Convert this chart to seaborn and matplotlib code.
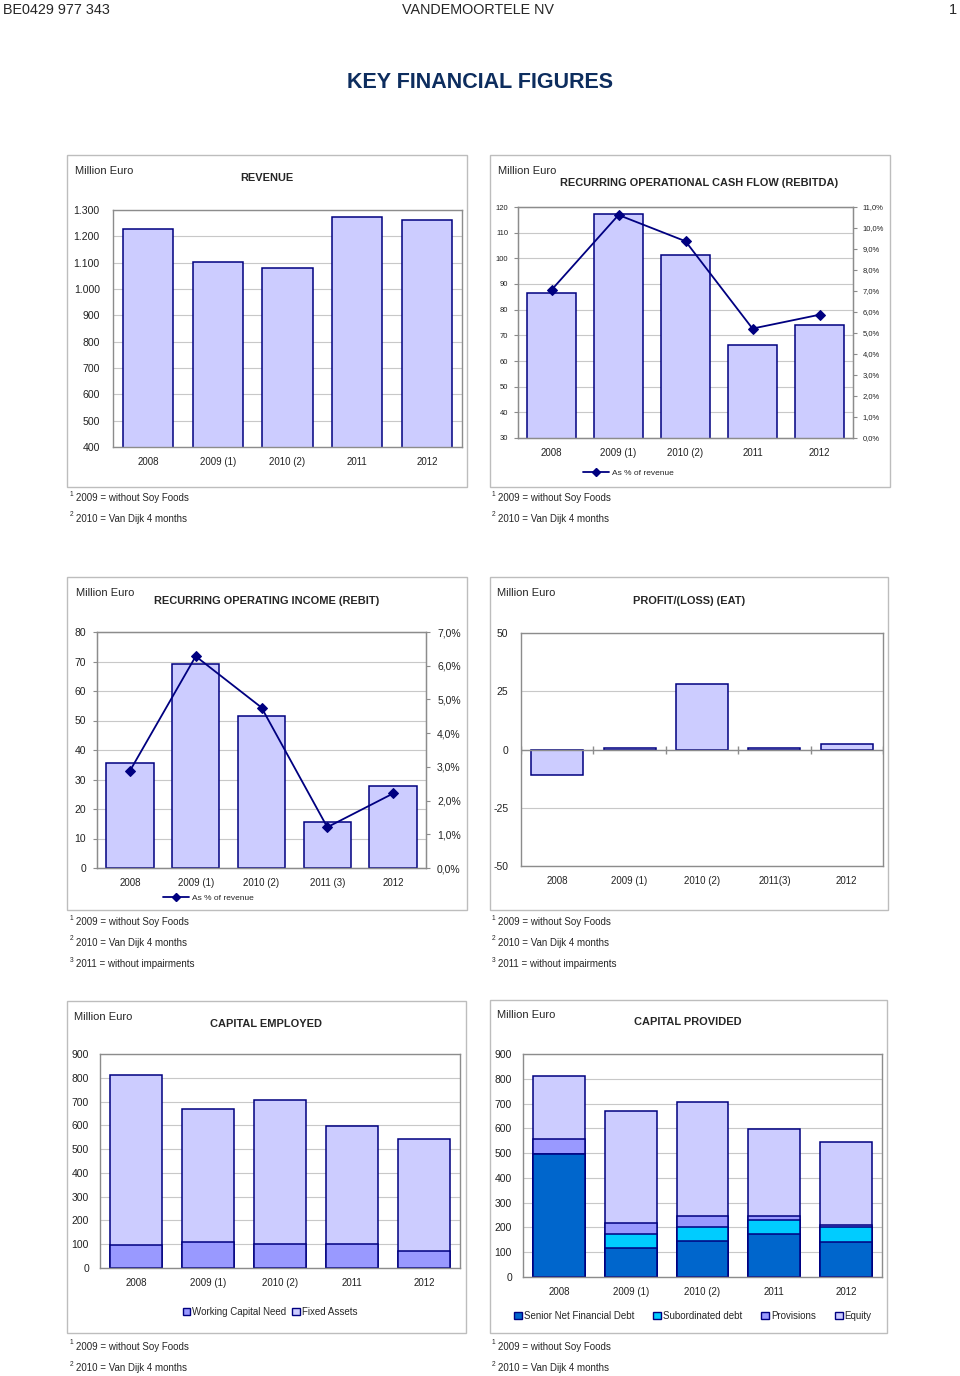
import numpy as np
import pandas as pd
import matplotlib
matplotlib.use('Agg')
import matplotlib.pyplot as plt
import seaborn as sns
from matplotlib.patches import Rectangle, Patch
from matplotlib.lines import Line2D
from matplotlib.ticker import FuncFormatter, FixedLocator

sns.set_style('white')
plt.rcParams['font.family'] = ['Liberation Sans', 'DejaVu Sans']
plt.rcParams['axes.unicode_minus'] = False
NARROW = ['Liberation Sans Narrow', 'Liberation Sans', 'DejaVu Sans']

# data
years = ['2008', '2009 (1)', '2010 (2)', '2011', '2012']
years_rebit = ['2008', '2009 (1)', '2010 (2)', '2011 (3)', '2012']
years_eat = ['2008', '2009 (1)', '2010 (2)', '2011(3)', '2012']

revenue = [1228, 1103, 1080, 1274, 1261]

rebitda = [86.6, 117.3, 101.2, 66.4, 74.2]
rebitda_pct = [7.05, 10.62, 9.37, 5.21, 5.87]

rebit = [35.5, 69.2, 51.5, 15.5, 27.9]
rebit_pct = [2.88, 6.28, 4.76, 1.21, 2.21]

eat = [-11.0, 0.5, 28.0, 0.5, 2.3]

working_capital = [98, 111, 101, 101, 70]
fixed_assets = [714, 558, 607, 496, 473]

senior_debt = [498, 119, 147, 175, 143]
subordinated_debt = [0, 54, 55, 57, 59]
provisions = [60, 45, 43, 16, 7]
equity = [254, 450, 462, 349, 334]

LIGHT = '#CCCCFF'
MID = '#9999FF'
NAVY = '#000080'
SENIOR = '#0066CC'
CYAN = '#00CCFF'
GRID = '#C8C8C8'
FRAME = '#8C8C8C'

W, H = 960, 1376
fig = plt.figure(figsize=(W / 100, H / 100), dpi=100)


def rect(x0, y0, x1, y1):
    return [x0 / W, 1 - y1 / H, (x1 - x0) / W, (y1 - y0) / H]


def txt(x, y, s, **kw):
    kw.setdefault('va', 'center')
    return fig.text(x / W, 1 - y / H, s, **kw)


def frame(x0, y0, x1, y1):
    fig.add_artist(Rectangle((x0 / W, 1 - y1 / H), (x1 - x0) / W, (y1 - y0) / H,
                             transform=fig.transFigure, fill=False,
                             edgecolor='#BDBDBD', lw=1.0))


def footnotes(x, y, notes):
    for i, n in enumerate(notes):
        yy = y + i * 21
        txt(x, yy - 4, str(i + 1), fontsize=4.8, family=NARROW)
        txt(x + 6, yy, n, fontsize=7.0, family=NARROW)


def style_axes(ax, labels, ysize, xpad=7, ypad=5):
    ax.set_xlim(-0.5, 4.5)
    ax.set_xlabel('')
    ax.set_ylabel('')
    for s in ax.spines.values():
        s.set_visible(True)
        s.set_color(FRAME)
        s.set_linewidth(1.0)
    ax.yaxis.grid(True, color=GRID, lw=0.8)
    ax.set_axisbelow(True)
    ax.xaxis.set_major_locator(FixedLocator(np.arange(5)))
    ax.set_xticklabels(labels)
    ax.xaxis.set_minor_locator(FixedLocator(np.arange(6) - 0.5))
    ax.tick_params(axis='x', which='major', length=0, pad=xpad, labelsize=7, colors='#222222')
    ax.tick_params(axis='x', which='minor', length=3, color=FRAME, direction='out')
    ax.tick_params(axis='y', length=3, color=FRAME, direction='out', pad=ypad,
                   labelsize=ysize, labelcolor='#222222')


def bars(ax, vals, color):
    sns.barplot(x=years, y=vals, order=years, color=color, saturation=1, width=0.72,
                edgecolor=NAVY, linewidth=1.1, ax=ax)


def pct_fmt(v, _):
    return f'{v:.1f}%'.replace('.', ',')


TITLE = dict(fontsize=7.9, family=NARROW, weight='bold', ha='center')

# header
txt(3, 10, 'BE0429 977 343', fontsize=10.4, family=NARROW, ha='left')
txt(478, 10, 'VANDEMOORTELE NV', fontsize=10.4, family=NARROW, ha='center')
txt(957, 10, '1', fontsize=10.4, family=NARROW, ha='right')
txt(480, 82, 'KEY FINANCIAL FIGURES', fontsize=15.5, family=NARROW, weight='bold',
    ha='center', color='#0D2D5E')

# ---- revenue
frame(67, 155, 467, 487)
txt(75, 171, 'Million Euro', fontsize=8)
txt(267, 178, 'REVENUE', **TITLE)
ax = fig.add_axes(rect(113, 210, 462, 447))
bars(ax, revenue, LIGHT)
ax.set_ylim(400, 1300)
ax.set_yticks(np.arange(400, 1301, 100))
ax.yaxis.set_major_formatter(FuncFormatter(lambda v, _: f'{int(v):,}'.replace(',', '.')))
style_axes(ax, years, 7.6, ypad=6.5)
footnotes(70, 498, ['2009 = without Soy Foods', '2010 = Van Dijk 4 months'])

# ---- rebitda
frame(490, 155, 890, 487)
txt(498, 171, 'Million Euro', fontsize=8)
txt(699, 183, 'RECURRING OPERATIONAL CASH FLOW (REBITDA)', **TITLE)
ax = fig.add_axes(rect(518, 207, 853, 438))
bars(ax, rebitda, LIGHT)
ax.set_ylim(30, 120)
ax.set_yticks(np.arange(30, 121, 10))
style_axes(ax, years, 5.5, ypad=4)
ax2 = ax.twinx()
sns.lineplot(x=np.arange(5), y=rebitda_pct, ax=ax2, color=NAVY, lw=1.3, marker='D',
             markersize=5, markeredgecolor=NAVY, legend=False)
ax2.set_xlim(-0.5, 4.5)
ax2.set_ylim(0, 11)
ax2.set_yticks(np.arange(0, 11.1, 1))
ax2.yaxis.set_major_formatter(FuncFormatter(pct_fmt))
ax2.tick_params(axis='y', length=3, color=FRAME, pad=4, labelsize=5.5, labelcolor='#222222')
ax2.set_ylabel('')
for s in ax2.spines.values():
    s.set_color(FRAME)
fig.legend(handles=[Line2D([], [], color=NAVY, lw=1.3, marker='D', markersize=4)],
           labels=['As % of revenue'], loc='center', bbox_to_anchor=(628 / W, 1 - 473 / H),
           frameon=False, fontsize=6, handlelength=3.2, handletextpad=0.3)
footnotes(492, 498, ['2009 = without Soy Foods', '2010 = Van Dijk 4 months'])

# ---- rebit
frame(67, 577, 467, 910)
txt(76, 593, 'Million Euro', fontsize=8)
txt(267, 601, 'RECURRING OPERATING INCOME (REBIT)', **TITLE)
ax = fig.add_axes(rect(97, 632, 426, 868))
bars(ax, rebit, LIGHT)
ax.set_ylim(0, 80)
ax.set_yticks(np.arange(0, 81, 10))
style_axes(ax, years_rebit, 7.5, ypad=5)
ax2 = ax.twinx()
sns.lineplot(x=np.arange(5), y=rebit_pct, ax=ax2, color=NAVY, lw=1.3, marker='D',
             markersize=5, markeredgecolor=NAVY, legend=False)
ax2.set_xlim(-0.5, 4.5)
ax2.set_ylim(0, 7)
ax2.set_yticks(np.arange(0, 7.1, 1))
ax2.yaxis.set_major_formatter(FuncFormatter(pct_fmt))
ax2.tick_params(axis='y', length=3, color=FRAME, pad=5, labelsize=7.5, labelcolor='#222222')
ax2.set_ylabel('')
for s in ax2.spines.values():
    s.set_color(FRAME)
fig.legend(handles=[Line2D([], [], color=NAVY, lw=1.3, marker='D', markersize=4)],
           labels=['As % of revenue'], loc='center', bbox_to_anchor=(208 / W, 1 - 898 / H),
           frameon=False, fontsize=6, handlelength=3.2, handletextpad=0.3)
footnotes(70, 922, ['2009 = without Soy Foods', '2010 = Van Dijk 4 months',
                    '2011 = without impairments'])

# ---- eat
frame(490, 577, 888, 910)
txt(497, 593, 'Million Euro', fontsize=8)
txt(689, 601, 'PROFIT/(LOSS) (EAT)', **TITLE)
ax = fig.add_axes(rect(521, 633, 883, 866))
bars(ax, eat, LIGHT)
ax.set_ylim(-50, 50)
ax.set_yticks([-50, -25, 0, 25, 50])
style_axes(ax, years_eat, 7.5, ypad=6)
ax.tick_params(axis='x', which='minor', length=0)
ax.axhline(0, color=FRAME, lw=1.0, zorder=1)
ax.plot(np.arange(6) - 0.5, np.zeros(6), ls='none', marker='|', ms=6, color=FRAME, zorder=1)
footnotes(492, 922, ['2009 = without Soy Foods', '2010 = Van Dijk 4 months',
                     '2011 = without impairments'])

# ---- capital employed
frame(67, 1001, 466, 1333)
txt(74, 1017, 'Million Euro', fontsize=8)
txt(266, 1024, 'CAPITAL EMPLOYED', **TITLE)
ax = fig.add_axes(rect(100, 1054, 460, 1268))
total_ce = np.array(working_capital) + np.array(fixed_assets)
bars(ax, total_ce, LIGHT)
bars(ax, working_capital, MID)
ax.set_ylim(0, 900)
ax.set_yticks(np.arange(0, 901, 100))
style_axes(ax, years, 7.5, ypad=5)
fig.legend(handles=[Patch(facecolor=MID, edgecolor=NAVY), Patch(facecolor=LIGHT, edgecolor=NAVY)],
           labels=['Working Capital Need', 'Fixed Assets'], loc='center',
           bbox_to_anchor=(270 / W, 1 - 1312 / H), ncol=2, frameon=False, fontsize=7,
           handlelength=0.8, handleheight=0.8, handletextpad=0.2, columnspacing=0.6)
footnotes(70, 1347, ['2009 = without Soy Foods', '2010 = Van Dijk 4 months'])

# ---- capital provided
frame(490, 1000, 887, 1333)
txt(497, 1015, 'Million Euro', fontsize=8)
txt(688, 1022, 'CAPITAL PROVIDED', **TITLE)
ax = fig.add_axes(rect(523, 1054, 882, 1277))
layers = [senior_debt, subordinated_debt, provisions, equity]
colors = [SENIOR, CYAN, MID, LIGHT]
cum = np.cumsum(np.array(layers), axis=0)
for vals, c in zip(cum[::-1], colors[::-1]):
    bars(ax, vals, c)
ax.set_ylim(0, 900)
ax.set_yticks(np.arange(0, 901, 100))
style_axes(ax, years, 7.5, ypad=5)
fig.legend(handles=[Patch(facecolor=c, edgecolor=NAVY) for c in colors],
           labels=['Senior Net Financial Debt', 'Subordinated debt', 'Provisions', 'Equity'],
           loc='center', bbox_to_anchor=(693 / W, 1 - 1316 / H), ncol=4, frameon=False,
           fontsize=7, handlelength=0.8, handleheight=0.8, handletextpad=0.2,
           columnspacing=1.95)
footnotes(492, 1347, ['2009 = without Soy Foods', '2010 = Van Dijk 4 months'])

fig.savefig('out.png', dpi=100)
